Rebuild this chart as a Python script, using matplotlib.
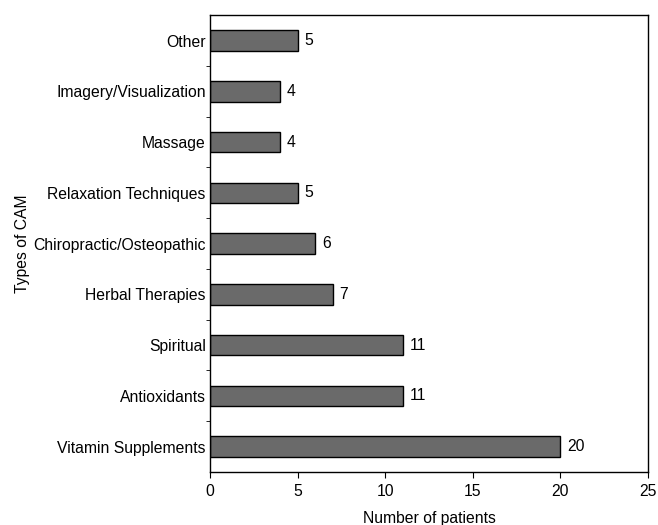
import matplotlib
matplotlib.use("Agg")
from matplotlib import pyplot as plt
import numpy as np

# CAM types, bottom to top
cam_types = ["Vitamin Supplements", "Antioxidants", "Spiritual", "Herbal Therapies",
             "Chiropractic/Osteopathic", "Relaxation Techniques", "Massage",
             "Imagery/Visualization", "Other"]
patients = [20, 11, 11, 7, 6, 5, 4, 4, 5]

plt.rcParams['font.family'] = ['Liberation Sans', 'DejaVu Sans']
plt.rcParams['font.size'] = 11.3

fig = plt.figure(figsize=(6.58, 5.25), dpi=100)
ax = fig.add_axes([0.319, 0.101, 0.666, 0.870])

y = np.arange(len(cam_types))
ax.barh(y, patients, height=0.4, color='#6a6a6a', edgecolor='black', linewidth=1.0)
for yi, v in zip(y, patients):
    ax.text(v + 0.4, yi, str(v), va='center', ha='left')

ax.set_xlim(0, 25)
ax.set_ylim(-0.5, len(cam_types) - 0.5)
ax.set_xticks(np.arange(0, 26, 5))
ax.set_yticks(y)
ax.set_yticklabels(cam_types)
ax.tick_params(axis='y', which='major', length=0, pad=3)
ax.set_yticks(np.arange(-0.5, len(cam_types) - 0.5, 1.0)[1:], minor=True)
ax.tick_params(axis='y', which='minor', length=3, direction='out')
ax.tick_params(axis='x', length=4, direction='out', pad=5)

ax.set_xlabel("Number of patients", labelpad=8)
ax.set_ylabel("Types of CAM", labelpad=2)

for s in ax.spines.values():
    s.set_linewidth(1.0)

fig.savefig("out.png", dpi=100)
